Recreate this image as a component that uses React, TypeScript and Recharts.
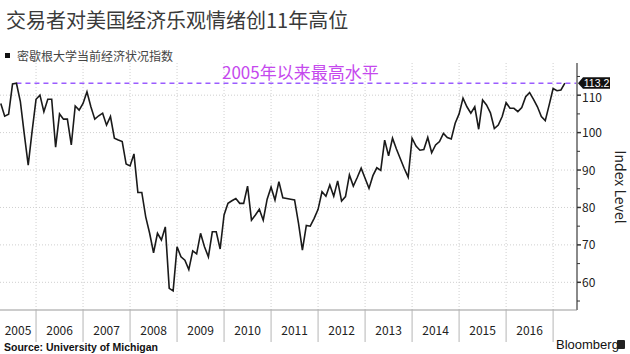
import React from 'react'
import { LineChart, Line, XAxis, YAxis, ReferenceLine, ReferenceDot } from 'recharts'

// Michigan current economic conditions index, monthly, Mar 2005 .. Mar 2017
const firstMonth = 3 // months since Jan 2005, plotted at month end
const v2005 = [107.8, 104.4, 104.9, 113.0, 113.2, 108.3, 99.6, 91.3, 100.4, 108.9]
const v2006 = [110.0, 105.6, 108.9, 108.9, 96.1, 105.0, 103.6, 103.6, 96.7, 107.1, 106.0, 107.8]
const v2007 = [110.9, 106.9, 103.6, 104.5, 105.2, 102.0, 104.3, 98.5, 98.0, 97.6, 91.6, 91.1]
const v2008 = [94.3, 84.0, 84.0, 77.5, 73.1, 67.9, 73.1, 71.3, 74.8, 58.4, 57.7, 69.5]
const v2009 = [66.8, 65.9, 63.4, 68.4, 67.6, 73.1, 69.5, 66.8, 73.5, 73.5, 68.9, 78.0]
const v2010 = [81.1, 81.8, 82.4, 81.1, 81.1, 85.7, 76.6, 78.0, 79.5, 76.6, 82.2, 85.4]
const v2011 = [82.0, 86.9, 82.6, 82.4, 82.2, 82.0, 75.8, 68.6, 75.2, 75.0, 77.1, 79.5]
const v2012 = [84.2, 83.0, 86.0, 83.0, 87.1, 81.7, 82.9, 88.7, 85.7, 88.0, 90.5, 87.8]
const v2013 = [85.1, 88.5, 90.6, 89.9, 98.0, 93.8, 98.5, 95.6, 93.0, 90.4, 88.1, 98.5]
const v2014 = [96.4, 95.3, 95.5, 98.7, 94.6, 96.7, 97.6, 99.8, 98.7, 98.3, 102.5, 105.0]
const v2015 = [109.2, 106.9, 105.2, 106.9, 100.9, 108.7, 107.4, 105.3, 101.1, 102.0, 104.3, 108.0]
const v2016 = [106.5, 106.5, 105.6, 106.7, 109.6, 110.7, 108.9, 106.9, 104.3, 103.2, 107.4, 111.8]
const v2017 = [111.2, 111.4, 113.2]

const years = [2005, 2006, 2007, 2008, 2009, 2010, 2011, 2012, 2013, 2014, 2015, 2016]
const yTicks = [55, 60, 65, 70, 75, 80, 85, 90, 95, 100, 105, 110, 115]
const yGrid = [60, 70, 80, 90, 100, 110]
const latest = 113.2

const xDomain: [number, number] = [2.8, 150.1]
const yDomain: [number, number] = [52.6, 118.6]

const values = [
  ...v2005, ...v2006, ...v2007, ...v2008, ...v2009, ...v2010, ...v2011,
  ...v2012, ...v2013, ...v2014, ...v2015, ...v2016, ...v2017,
]
const data = values.map((v, i) => ({ t: firstMonth + i, v }))
const peak = data.slice(0, 12).reduce((a, b) => (b.v > a.v ? b : a))

const boundaries = years.map((y) => (y - 2005 + 1) * 12)
const mids = years.map((y) => {
  const start = Math.max((y - 2005) * 12, xDomain[0])
  return (start + (y - 2005 + 1) * 12) / 2
})

const sans = '"Noto Sans CJK SC", "Noto Sans", sans-serif'

function XTick(props: any) {
  const { x, y, payload } = props
  const i = mids.indexOf(payload.value)
  if (i >= 0) {
    return (
      <text x={x} y={y + 25} textAnchor="middle" fontSize={12} fill="#222" fontFamily={sans}>
        {years[i]}
      </text>
    )
  }
  return <line x1={x} x2={x} y1={y} y2={y + 32} stroke="#b5b5b5" strokeWidth={1} />
}

function YTick(props: any) {
  const { x, y, payload } = props
  const major = payload.value % 10 === 0
  // the top label sits a touch lower, under the latest-value tag
  const dy = payload.value === 110 ? 6.5 : 4.5
  return (
    <g>
      <line x1={x} x2={x + (major ? 4 : 3)} y1={y} y2={y} stroke="#333" strokeWidth={major ? 1.5 : 1} />
      {major && (
        <text x={x + 5} y={y + dy} fontSize={12} fill="#222" fontFamily={sans}>
          {payload.value}
        </text>
      )}
    </g>
  )
}

function Tag(props: any) {
  const { cx, cy } = props
  return (
    <g>
      <path
        d={`M${cx + 1},${cy} L${cx + 6},${cy - 6} H${cx + 33} V${cy + 5.5} H${cx + 6} Z`}
        fill="#111"
      />
      <text x={cx + 19.5} y={cy + 3.5} textAnchor="middle" fontSize={10.5} fill="#fff" fontFamily='"Liberation Sans", sans-serif'>
        {latest}
      </text>
    </g>
  )
}

export default function App() {
  return (
    <div style={{ position: 'absolute', left: 0, top: 0, width: 630, height: 354, background: '#fff', fontFamily: sans }}>
      <div style={{ position: 'absolute', left: 6, top: 7, fontSize: 20, color: '#3a3a3a', whiteSpace: 'nowrap', lineHeight: '26px' }}>
        交易者对美国经济乐观情绪创11年高位
      </div>
      <div style={{ position: 'absolute', left: 5, top: 53, width: 5, height: 5, background: '#111' }} />
      <div style={{ position: 'absolute', left: 17, top: 47, fontSize: 12, color: '#444', whiteSpace: 'nowrap', lineHeight: '18px' }}>
        密歇根大学当前经济状况指数
      </div>

      <LineChart
        width={630}
        height={354}
        data={data}
        margin={{ top: 63, right: 0, bottom: 0, left: 0 }}
        style={{ position: 'absolute', left: 0, top: 0 }}
      >
        {yGrid.map((g) => (
          <ReferenceLine key={'h' + g} y={g} stroke="#cfcfcf" strokeDasharray="1 2" />
        ))}
        {boundaries.map((b) => (
          <ReferenceLine key={'v' + b} x={b} stroke="#cfcfcf" strokeDasharray="1 2" />
        ))}
        <XAxis
          dataKey="t"
          type="number"
          domain={xDomain}
          allowDataOverflow
          ticks={[...boundaries, ...mids].sort((a, b) => a - b)}
          interval={0}
          tick={<XTick />}
          tickLine={false}
          tickSize={0}
          tickMargin={0}
          height={44}
          axisLine={{ stroke: '#999', strokeWidth: 1 }}
        />
        <YAxis
          orientation="right"
          type="number"
          domain={yDomain}
          allowDataOverflow
          ticks={yTicks}
          interval={0}
          tick={<YTick />}
          tickLine={false}
          tickSize={0}
          tickMargin={0}
          width={53}
          axisLine={{ stroke: '#8a8a8a', strokeWidth: 2 }}
        />
        <ReferenceLine
          segment={[{ x: peak.t, y: latest }, { x: xDomain[1], y: latest }]}
          stroke="#9b5cff"
          strokeWidth={1.5}
          strokeDasharray="5 4"
        />
        <Line
          dataKey="v"
          type="linear"
          stroke="#1a1a1a"
          strokeWidth={1.6}
          dot={false}
          isAnimationActive={false}
        />
        <ReferenceDot x={xDomain[1]} y={latest} r={0} shape={<Tag />} />
      </LineChart>

      <div style={{ position: 'absolute', left: 222, top: 61, fontSize: 17, color: '#c548ee', whiteSpace: 'nowrap', lineHeight: '22px' }}>
        2005年以来最高水平
      </div>
      <div
        style={{
          position: 'absolute', left: 621, top: 187, fontSize: 14, color: '#222', whiteSpace: 'nowrap',
          transform: 'translate(-50%, -50%) rotate(90deg)', lineHeight: '16px',
        }}
      >
        Index Level
      </div>
      <div style={{ position: 'absolute', left: 4, top: 340, fontSize: 10.5, fontWeight: 700, color: '#111', fontFamily: '"Liberation Sans", sans-serif', whiteSpace: 'nowrap', lineHeight: '14px' }}>
        Source: University of Michigan
      </div>
      <div style={{ position: 'absolute', left: 556, top: 337, fontSize: 13, color: '#111', fontFamily: '"Liberation Sans", sans-serif', whiteSpace: 'nowrap', lineHeight: '16px' }}>
        Bloomberg
      </div>
      <div style={{ position: 'absolute', left: 617, top: 340, width: 8, height: 9, background: '#222', borderRadius: 1 }} />
    </div>
  )
}
